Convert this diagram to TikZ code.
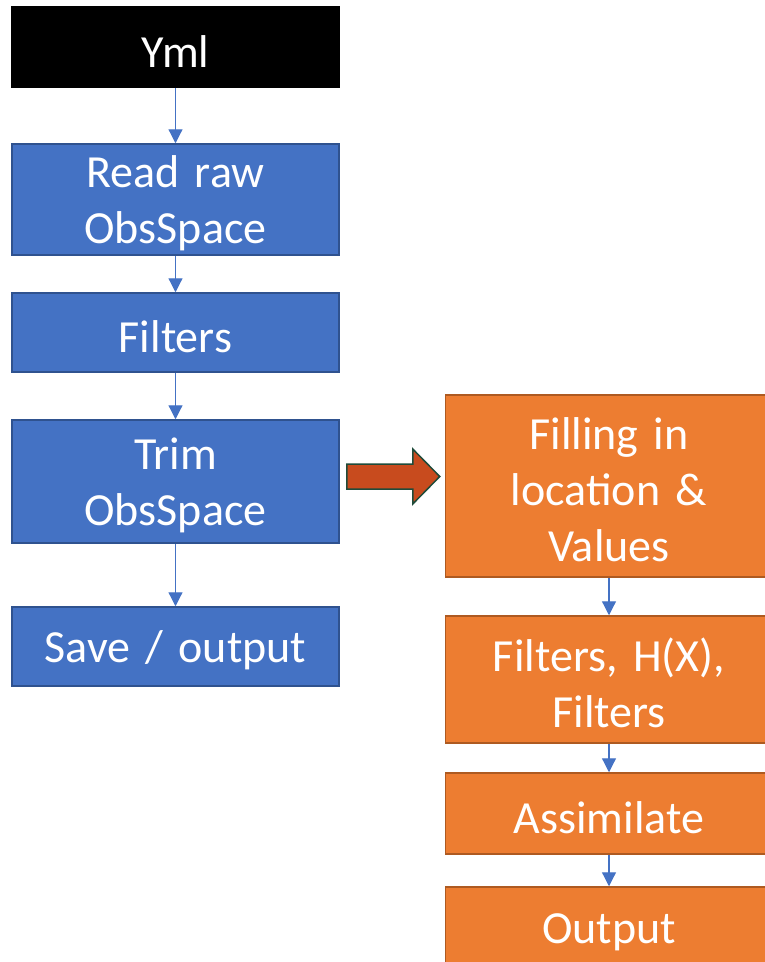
\documentclass[tikz,border=0pt]{standalone}
\usepackage{fontspec}
\setmainfont{Carlito}
\usetikzlibrary{arrows.meta}
\definecolor{bluefill}{HTML}{4472C4}
\definecolor{blueedge}{HTML}{2F528F}
\definecolor{orangefill}{HTML}{ED7D31}
\definecolor{orangeedge}{HTML}{AE5A21}
\definecolor{bigarrowfill}{HTML}{C84B1E}
\definecolor{bigarrowedge}{HTML}{1F4B3A}
\tikzset{
  box/.style={rectangle, minimum width=327pt, text width=320pt, align=center,
    inner sep=0pt, line width=1.5pt, text=white,
    font=\fontsize{46}{56}\selectfont,
    % a tall invisible strut on the first line lowers the text a little
    execute at begin node={\rule{0pt}{40pt}}},
  blackbox/.style={box, fill=black, draw=black},
  bluebox/.style={box, fill=bluefill, draw=blueedge},
  orangebox/.style={box, fill=orangefill, draw=orangeedge},
  flow/.style={draw=bluefill, line width=1.2pt,
    -{Triangle[length=14pt,width=14pt]}},
}
\begin{document}
\begin{tikzpicture}[x=1pt,y=-1pt]
  \clip (0,0) rectangle (765,962);
  \fill[white] (0,0) rectangle (765,962);

  % left column
  \node[blackbox, minimum height=80pt]  (yml)    at (175.5,47)    {Yml};
  \node[bluebox,  minimum height=111pt] (read)   at (175.5,199.5) {Read raw\\ObsSpace};
  \node[bluebox,  minimum height=79pt]  (filt)   at (175.5,332.5) {Filters};
  \node[bluebox,  minimum height=123pt] (trim)   at (175.5,481.5) {Trim\\ObsSpace};
  \node[bluebox,  minimum height=79pt]  (save)   at (175.5,646.5) {Save / output};

  % right column
  \node[orangebox, minimum height=182pt] (fill)   at (609,486)   {Filling in\\location \&\\Values};
  \node[orangebox, minimum height=127pt] (hofx)   at (609,679.5) {Filters, H(X),\\Filters};
  \node[orangebox, minimum height=81pt]  (assim)  at (609,813.5) {Assimilate};
  \node[orangebox, minimum height=80pt]  (out)    at (609,927)   {Output};

  % connectors
  \draw[flow] (yml)  -- (read);
  \draw[flow] (read) -- (filt);
  \draw[flow] (filt) -- (trim);
  \draw[flow] (trim) -- (save);
  \draw[flow] (fill) -- (hofx);
  \draw[flow] (hofx) -- (assim);
  \draw[flow] (assim) -- (out);

  % block arrow between the two columns
  \coordinate (ba) at ([xshift=7pt,yshift=5pt]trim.east);
  \draw[fill=bigarrowfill, draw=bigarrowedge, line width=1.5pt]
    (ba) ++(0,-12.5) -- ++(66,0) -- ++(0,-15) -- ++(27,27.5)
    -- ++(-27,27.5) -- ++(0,-15) -- ++(-66,0) -- cycle;
\end{tikzpicture}
\end{document}
